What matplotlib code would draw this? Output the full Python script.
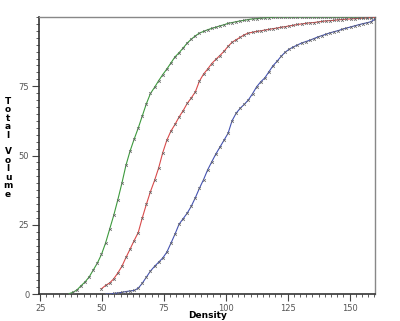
import matplotlib
matplotlib.use("Agg")
import matplotlib.pyplot as plt
from matplotlib.ticker import MultipleLocator

density = [25.0, 26.65, 28.3, 29.95, 31.6, 33.25, 34.9, 36.55, 38.2, 39.85, 41.5, 43.15, 44.8,
           46.45, 48.1, 49.75, 51.4, 53.05, 54.7, 56.35, 58.0, 59.65, 61.3, 62.95, 64.6, 66.25,
           67.9, 69.55, 71.2, 72.85, 74.5, 76.15, 77.8, 79.45, 81.1, 82.75, 84.4, 86.05, 87.7,
           89.35, 91.0, 92.65, 94.3, 95.95, 97.6, 99.25, 100.9, 102.55, 104.2, 105.85, 107.5,
           109.15, 110.8, 112.45, 114.1, 115.75, 117.4, 119.05, 120.7, 122.35, 124.0, 125.65,
           127.3, 128.95, 130.6, 132.25, 133.9, 135.55, 137.2, 138.85, 140.5, 142.15, 143.8,
           145.45, 147.1, 148.75, 150.4, 152.05, 153.7, 155.35, 157.0, 158.65, 160.3]

green = [0, 0, 0, 0, 0, 0, 0, 0.1, 0.6, 1.5, 3.0, 4.4, 6.2,
         8.7, 11.2, 14.3, 18.4, 23.4, 28.4, 34.0, 40.0, 46.5, 51.6, 55.9, 59.9, 64.3,
         68.7, 72.4, 74.6, 77.0, 79.2, 81.2, 83.4, 85.6, 87.1, 88.8, 90.6, 92.0, 93.2,
         94.2, 94.8, 95.4, 95.9, 96.3, 96.8, 97.2, 97.7, 98.0, 98.3, 98.6, 98.8,
         99.1, 99.3, 99.4, 99.6, 99.7, 99.8, 99.9, 100, 100, 100, 100,
         100, 100, 100, 100, 100, 100, 100, 100, 100, 100, 100,
         100, 100, 100, 100, 100, 100, 100, 100, 100, 100]

red = [0, 0, 0, 0, 0, 0, 0, 0, 0, 0, 0, 0, 0.1,
       0.5, 1.3, 1.9, 3.1, 4.0, 5.5, 7.6, 10.0, 13.2, 16.2, 19.3, 22.2, 27.5,
       32.4, 37.0, 41.0, 45.5, 51.0, 55.5, 58.8, 61.2, 63.9, 66.2, 68.8, 70.8, 73.0,
       76.9, 79.4, 81.2, 83.2, 84.7, 86.1, 87.6, 89.4, 90.9, 91.8, 92.7, 93.6,
       94.2, 94.5, 94.8, 95.0, 95.3, 95.5, 95.8, 96.0, 96.3, 96.5, 96.8,
       97.0, 97.3, 97.5, 97.7, 97.9, 98.0, 98.2, 98.4, 98.6, 98.7, 98.8,
       99.0, 99.1, 99.2, 99.3, 99.4, 99.5, 99.6, 99.7, 99.8, 99.9]

blue = [0, 0, 0, 0, 0, 0, 0, 0, 0, 0, 0, 0, 0,
        0, 0, 0, 0, 0.1, 0.2, 0.4, 0.6, 0.9, 1.1, 1.3, 2.1, 3.9,
        6.1, 8.3, 10.0, 11.5, 13.0, 15.1, 18.3, 21.6, 25.2, 27.2, 29.2, 31.7, 34.8,
        38.2, 41.3, 44.8, 47.7, 50.5, 53.0, 55.5, 58.0, 62.6, 65.3, 67.1, 68.5,
        70.1, 72.3, 74.8, 76.6, 78.0, 80.2, 82.4, 84.0, 85.8, 87.3, 88.4,
        89.2, 89.9, 90.6, 91.1, 91.6, 92.2, 92.8, 93.3, 93.8, 94.3, 94.7,
        95.1, 95.6, 96.0, 96.4, 96.8, 97.2, 97.6, 97.9, 98.3, 99.2]

series = [
    (green, "#3d9a3d", 7),
    (red, "#d84a4a", 15),
    (blue, "#4452b0", 16),
]

x_ticks = [25, 50, 75, 100, 125, 150]
y_ticks = [0, 25, 50, 75]

fig = plt.figure(figsize=(4.0, 3.21), dpi=100)
ax = fig.add_axes([0.0975, 0.084, 0.84, 0.863])

for vals, color, start in series:
    xs = density[start:]
    ys = vals[start:]
    ax.plot(xs, ys, color=color, lw=0.8, zorder=3)
    ax.plot(xs, ys, ls="none", marker="x", ms=2.0, mew=0.5, color="#666666", zorder=4)

ax.set_xlim(24.5, 160.3)
ax.set_ylim(0, 100)
ax.set_xticks(x_ticks)
ax.set_yticks(y_ticks)
ax.xaxis.set_minor_locator(MultipleLocator(2.5))
ax.yaxis.set_minor_locator(MultipleLocator(2.5))
ax.tick_params(which="major", length=5, width=0.8, color="#444444",
               labelsize=6, labelcolor="#555555", direction="out", pad=2)
ax.tick_params(which="minor", length=2.5, width=0.6, color="#444444", direction="out")

for side in ["left", "bottom"]:
    ax.spines[side].set_color("#333333")
    ax.spines[side].set_linewidth(1.2)
for side in ["top", "right"]:
    ax.spines[side].set_color("#888888")
    ax.spines[side].set_linewidth(1.0)

fig.text(0.52, 0.016, "Density", fontsize=6.5, fontweight="bold",
         ha="center", va="center")
fig.text(0.02, 0.54, "T\no\nt\na\nl\n\nV\no\nl\nu\nm\ne", fontsize=6.5,
         fontweight="bold", ha="center", va="center", linespacing=0.92)

fig.savefig("out.png", dpi=100)
